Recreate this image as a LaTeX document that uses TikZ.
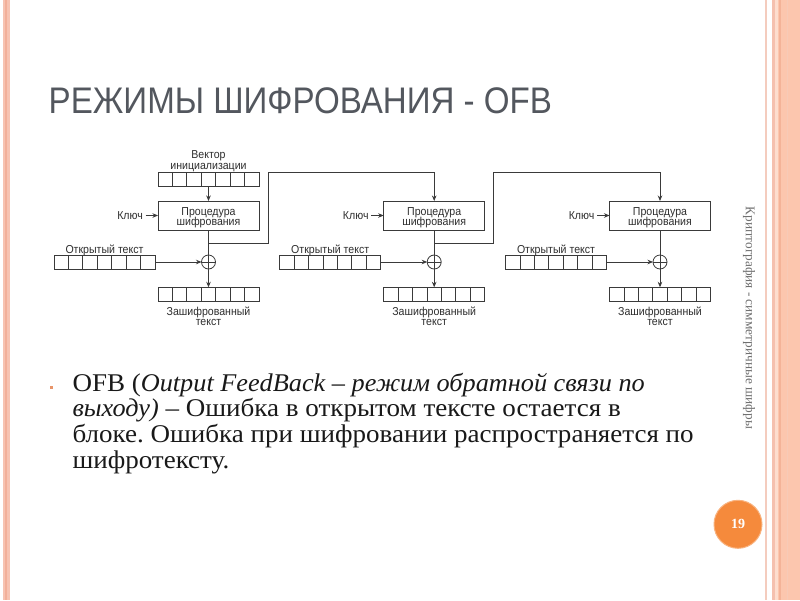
\documentclass[tikz,border=0pt]{standalone}
\usepackage{fontspec}
\usepackage{graphicx}
\setmainfont{Liberation Serif}
\setsansfont{Liberation Sans}
\newfontfamily\diagfont[FakeStretch=0.92]{Liberation Sans}
\newfontfamily\titlefont[FakeStretch=0.895]{Liberation Sans}
\newfontfamily\bodyup[FakeStretch=1.06]{Liberation Serif}
\newfontfamily\bodyit[FakeStretch=1.03]{Liberation Serif}
\usetikzlibrary{arrows.meta,calc}
\definecolor{linec}{HTML}{3A3A3A}
\definecolor{textc}{HTML}{2E2E2E}
\definecolor{titlec}{HTML}{53575E}
\definecolor{sidec}{HTML}{707070}
\definecolor{bulc}{HTML}{E8956A}
\definecolor{pgfill}{HTML}{F58A3C}
\definecolor{pgedge}{HTML}{F9B27E}
\definecolor{bordA}{HTML}{F7C3B2}
\definecolor{bordB}{HTML}{F2B09A}
\definecolor{bandc}{HTML}{FCC6AE}
\definecolor{bandl}{HTML}{F4B398}
\definecolor{thinl}{HTML}{F4CCBE}
\newcommand\itpart[1]{{\bodyit\itshape #1}}
\begin{document}
\frenchspacing
\begin{tikzpicture}[x=1pt,y=-1pt,
  dline/.style={draw=linec, line width=0.8pt},
  arr/.style={dline, -{Stealth[length=5.5pt,width=4.5pt]}},
  procbox/.style={dline, minimum width=101pt, minimum height=29pt, inner sep=0pt, outer sep=0pt},
  reg/.style={dline, minimum width=101pt, minimum height=14pt, inner sep=0pt, outer sep=0pt},
  xorc/.style={dline, circle, minimum size=14pt, inner sep=0pt, outer sep=0pt},
  lbl/.style={font=\diagfont\fontsize{11.5}{12}\selectfont, text=textc, inner sep=0pt},
  bodytxt/.style={font=\bodyup\fontsize{25.5}{26}\selectfont, text=black!90, inner sep=0pt, anchor=base west}
]
\useasboundingbox (0,0) rectangle (800,600);
\fill[white] (0,0) rectangle (800,600);
% left border
\fill[bordA] (3,0) rectangle (9.5,600);
\fill[bordB] (5.3,0) rectangle (7.3,600);
% right border
\fill[thinl] (764.5,0) rectangle (766.5,600);
\fill[bordB!80] (771.5,0) rectangle (775,600);
\fill[bandc!60] (775,0) rectangle (777.5,600);
\fill[bandc] (777.5,0) rectangle (800,600);
\fill[bandl] (779.3,0) rectangle (780.8,600);
\fill[bandl!70] (786.8,0) rectangle (788.2,600);

% title
\node[font=\titlefont\fontsize{37}{40}\selectfont, text=titlec, anchor=base west, inner sep=0pt] (title) at (48.5,113) {РЕЖИМЫ ШИФРОВАНИЯ - OFB};

% IV
\node[lbl, anchor=base] (ivl1) at (208.5,158) {Вектор};
\node[lbl, anchor=base] (ivl2) at (208.5,169.5) {инициализации};
\node[reg, minimum height=13.5pt] (iv) at (208.5,179.5) {};

\foreach \i/\cx in {1/208.5,2/434.2,3/660}{
  \node[procbox] (box\i) at (\cx,215.5) {};
  \node[lbl, anchor=base] (pa\i) at (\cx,215) {Процедура};
  \node[lbl, anchor=base] (pb\i) at (\cx,225.5) {шифрования};
  \node[lbl, anchor=east, inner sep=2.5pt] (key\i) at (\cx-63,215.5) {Ключ};
  \draw[arr] (key\i.east) -- (box\i.west);
  \node[reg] (pt\i) at (\cx-104,262) {};
  \node[lbl, anchor=base] (ptl\i) at (\cx-104,253.3) {Открытый текст};
  \node[xorc] (x\i) at (\cx,262) {};
  \draw[dline] (x\i.north) -- (x\i.south) (x\i.west) -- (x\i.east);
  \node[reg] (ct\i) at (\cx,294.3) {};
  \node[lbl, anchor=base] (ctl\i) at (\cx,315) {Зашифрованный};
  \node[lbl, anchor=base] (ctm\i) at (\cx,325.5) {текст};
  \draw[dline] (box\i.south) -- (x\i.north);
  \draw[arr] (pt\i.east) -- (x\i.west);
  \draw[arr] (x\i.south) -- (ct\i.north);
}
\foreach \r in {iv,pt1,pt2,pt3,ct1,ct2,ct3}{
  \foreach \k in {1,...,6}{
    \draw[dline] ($(\r.north west)!\k/7!(\r.north east)$) -- ($(\r.south west)!\k/7!(\r.south east)$);
  }
}
\draw[arr] (iv.south) -- (box1.north);
% feedback
\coordinate (fb1) at (208.5,243.3);
\coordinate (tr1) at (268,172);
\coordinate (fb2) at (434.2,243.3);
\coordinate (tr2) at (493.7,172);
\draw[arr] (fb1) -| (tr1) -| (box2.north);
\draw[arr] (fb2) -| (tr2) -| (box3.north);

% bullet text
\node[fill=bulc, minimum size=3.5pt, inner sep=0pt] (bul) at (51.7,387.7) {};
\node[bodytxt] (l1) at (72.3,391) {OFB (\itpart{Output FeedBack – режим обратной связи по}};
\node[bodytxt] (l2) at (72.3,416.7) {\itpart{выходу)} – Ошибка в открытом тексте остается в};
\node[bodytxt] (l3) at (72.3,442.3) {блоке. Ошибка при шифровании распространяется по};
\node[bodytxt] (l4) at (72.3,468.3) {шифротексту.};

% side text
\node[font=\fontsize{13.3}{15}\selectfont, text=sidec, rotate=-90, inner sep=0pt] (side) at (749,318) {Криптография - симметричные шифры};

% page number
\node[circle, fill=pgfill, draw=pgedge, line width=1pt, minimum size=48pt, inner sep=0pt, text=white, font=\bfseries\fontsize{14}{15}\selectfont] (pg) at (738,524.3) {19};
\end{tikzpicture}
\end{document}
